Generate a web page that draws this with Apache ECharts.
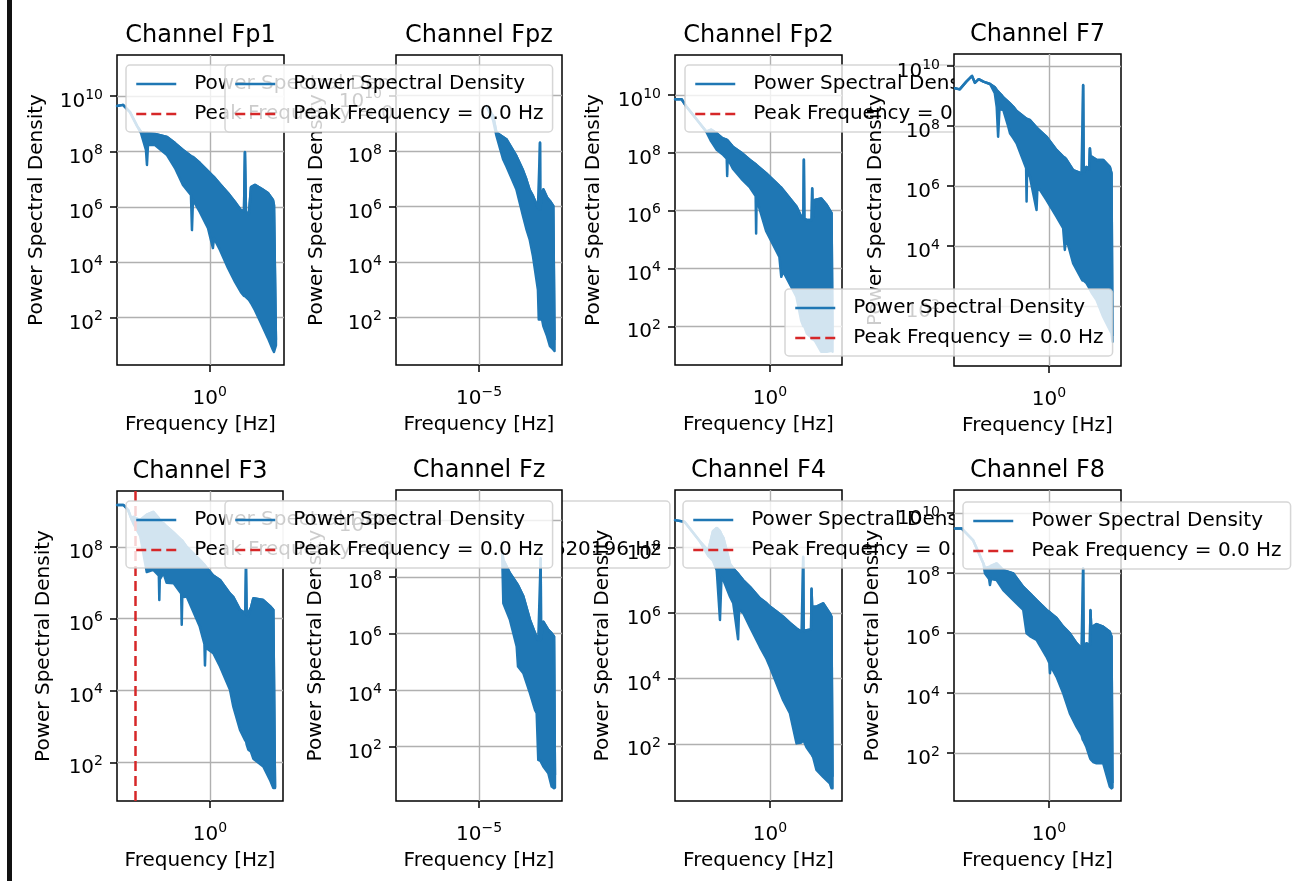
<!DOCTYPE html>
<html>
<head>
<meta charset="utf-8">
<script src="https://cdn.jsdelivr.net/npm/echarts@6/dist/echarts.min.js"></script>
<style>
html,body{margin:0;padding:0;background:#ffffff;}
#chart{width:1294px;height:881px;}
</style>
</head>
<body>
<div id="chart"></div>
<script>
// ---------------- DATA (log10 of frequency in Hz, log10 of PSD upper / lower envelope) ----------------
const channels = ['Fp1', 'Fpz', 'Fp2', 'F7', 'F3', 'Fz', 'F4', 'F8'];
const peakFreqHz = [0, 0, 0, 0, 0.156862745098620196, 0, 0, 0];
const peakFreqText = ['0.0', '0.0', '0.0', '0.0', '0.156862745098620196', '0.0', '0.0', '0.0'];

const fp1LogF = [-1.0,-0.935,-0.86,-0.784,-0.741,-0.688,-0.677,-0.666,-0.591,-0.461,-0.375,-0.289,-0.203,-0.192,-0.181,-0.106,-0.019,0.034,0.045,0.11,0.196,0.272,0.336,0.369,0.379,0.39,0.422,0.444,0.487,0.563,0.627,0.681,0.692,0.713];
const fp1Hi = [9.64,9.68,9.42,8.92,8.70,8.66,8.66,8.66,8.63,8.52,8.30,8.05,7.83,7.80,7.80,7.58,7.29,7.11,7.08,6.82,6.50,6.17,5.88,5.85,7.98,5.81,5.74,6.71,6.79,6.64,6.50,6.25,6.06,1.20];
const fp1Lo = [9.64,9.68,9.42,8.92,8.66,8.05,7.51,8.23,8.23,7.87,7.40,6.79,6.43,5.16,6.25,5.81,5.23,4.51,4.87,4.44,3.79,3.29,2.92,2.78,2.78,2.74,2.64,2.53,2.27,1.73,1.26,0.83,0.76,1.00];

const fpzLogF = [-4.91,-4.83,-4.79,-4.71,-4.67,-4.55,-4.47,-4.43,-4.39,-4.35,-4.29,-4.28,-4.268,-4.265,-4.262,-4.24,-4.225,-4.18,-4.145,-4.105,-4.09];
const fpzHi = [9.62,9.26,8.66,8.50,8.42,7.82,7.30,6.98,6.60,6.38,5.96,5.90,5.90,8.30,5.90,6.50,6.62,6.32,6.20,6.02,1.20];
const fpzLo = [9.62,9.10,8.55,7.70,7.45,6.62,5.66,5.20,4.82,4.22,3.00,1.94,1.94,1.94,1.94,1.94,1.70,1.34,0.98,0.86,0.80];

const fp2LogF = [-1.0,-0.93,-0.88,-0.74,-0.67,-0.62,-0.56,-0.5,-0.455,-0.45,-0.445,-0.39,-0.3,-0.21,-0.15,-0.145,-0.14,-0.04,0.1,0.12,0.14,0.28,0.33,0.353,0.358,0.363,0.39,0.44,0.446,0.452,0.474,0.54,0.6,0.65,0.66];
const fp2Hi = [9.85,9.85,9.60,9.02,8.73,8.80,8.67,8.50,8.45,8.44,8.43,8.21,8.00,7.75,7.60,7.58,7.56,7.29,6.85,6.80,6.71,6.14,5.79,5.75,7.77,5.72,5.67,5.67,6.77,5.75,6.37,6.42,6.19,5.91,1.50];
const fp2Lo = [9.85,9.85,9.60,9.02,8.73,8.40,8.10,7.95,7.80,7.20,7.80,7.45,7.10,6.80,6.50,5.21,6.40,5.30,4.40,3.71,3.90,3.02,2.20,2.00,2.00,2.00,1.75,1.60,1.55,1.55,1.50,1.12,1.12,1.15,1.12];

const f7LogF = [-0.99,-0.94,-0.87,-0.81,-0.78,-0.74,-0.69,-0.62,-0.57,-0.55,-0.535,-0.52,-0.5,-0.48,-0.43,-0.41,-0.375,-0.34,-0.24,-0.235,-0.23,-0.2,-0.13,-0.12,-0.025,0.08,0.15,0.168,0.18,0.256,0.344,0.355,0.361,0.367,0.396,0.425,0.432,0.44,0.449,0.502,0.572,0.642,0.66,0.67];
const f7Hi = [9.26,9.22,9.48,9.67,9.44,9.56,9.48,9.40,9.29,9.20,9.15,9.10,9.03,8.95,8.81,8.75,8.64,8.50,8.25,8.22,8.20,8.20,7.95,7.90,7.64,7.20,6.98,6.95,6.90,6.53,6.42,6.45,9.37,6.45,6.64,6.55,7.26,6.90,6.98,6.87,6.87,6.64,6.42,1.00];
const f7Lo = [9.26,9.22,9.48,9.67,9.44,9.56,9.48,9.40,9.09,8.64,7.64,8.60,8.55,8.53,8.00,7.76,7.60,7.42,6.60,5.48,6.50,6.30,5.20,6.00,5.53,4.98,4.60,3.87,4.30,3.42,2.90,2.85,2.85,2.85,2.76,2.60,2.55,2.50,2.45,2.20,1.64,1.20,1.09,0.81];

const f3LogF = [-1.0,-0.93,-0.88,-0.84,-0.825,-0.75,-0.68,-0.61,-0.55,-0.545,-0.54,-0.5,-0.466,-0.39,-0.31,-0.304,-0.298,-0.25,-0.11,-0.06,-0.054,-0.048,0.036,0.108,0.215,0.251,0.323,0.38,0.387,0.394,0.412,0.44,0.466,0.573,0.645,0.681,0.699];
const f3Hi = [9.17,9.17,9.03,8.75,8.84,8.75,8.90,8.98,8.80,8.75,8.70,8.66,8.57,8.40,8.20,8.19,8.18,8.00,7.64,7.50,7.48,7.45,7.20,7.08,6.70,6.60,6.25,6.15,7.41,6.10,6.06,6.30,6.57,6.52,6.35,6.25,1.30];
const f3Lo = [9.17,9.17,9.03,8.75,8.66,8.30,7.30,7.36,7.20,6.52,7.10,7.27,7.00,6.99,6.70,5.83,6.60,6.62,5.78,5.30,4.70,5.20,5.04,4.67,4.02,3.55,2.90,2.60,2.60,2.50,2.35,2.30,2.10,1.88,1.51,1.28,1.28];

const fzLogF = [-4.72,-4.707,-4.627,-4.546,-4.53,-4.466,-4.386,-4.325,-4.305,-4.286,-4.262,-4.257,-4.252,-4.225,-4.165,-4.124,-4.096,-4.085];
const fzHi = [8.90,8.60,8.13,7.78,7.70,7.31,6.48,6.01,5.85,5.77,5.77,8.66,5.80,6.42,6.13,6.00,5.89,1.00];
const fzLo = [8.70,7.07,6.48,5.54,4.83,4.60,3.89,3.30,3.18,1.53,1.50,1.50,1.45,1.30,1.06,0.59,0.53,0.55];

const f4LogF = [-1.0,-0.9,-0.74,-0.65,-0.6,-0.56,-0.526,-0.51,-0.49,-0.42,-0.386,-0.335,-0.325,-0.28,-0.21,-0.105,-0.035,0.0,0.07,0.14,0.211,0.281,0.334,0.346,0.351,0.356,0.386,0.434,0.439,0.445,0.456,0.491,0.561,0.632,0.649,0.66];
const f4Hi = [8.84,8.79,8.20,7.90,8.50,8.60,8.50,8.40,8.30,7.50,7.36,7.20,7.15,7.00,6.80,6.45,6.30,6.20,6.05,5.89,5.70,5.53,5.43,5.43,7.72,5.45,5.48,5.50,6.75,6.20,6.14,6.20,6.30,5.99,5.89,1.00];
const f4Lo = [8.84,8.79,8.20,7.75,7.60,7.31,5.79,7.10,7.01,6.50,6.30,5.20,6.10,6.00,5.58,4.97,4.60,4.36,3.85,3.34,2.94,2.02,2.05,2.10,2.10,2.10,1.90,1.70,1.70,1.65,1.60,1.21,1.00,0.80,0.65,0.65];

const f8LogF = [-0.99,-0.92,-0.8,-0.69,-0.674,-0.63,-0.621,-0.61,-0.551,-0.481,-0.375,-0.27,-0.235,-0.2,-0.13,-0.025,0.005,0.011,0.02,0.081,0.151,0.221,0.291,0.344,0.356,0.361,0.366,0.396,0.432,0.438,0.446,0.466,0.502,0.572,0.642,0.66,0.67];
const f8Hi = [9.49,9.49,9.10,8.32,8.16,8.20,8.20,8.25,8.32,8.10,7.99,7.54,7.43,7.32,7.10,6.77,6.70,6.68,6.65,6.50,6.21,5.99,5.66,5.49,5.49,8.16,5.55,5.66,5.60,6.77,6.20,6.21,6.30,6.21,6.04,5.88,1.00];
const f8Lo = [9.49,9.49,9.10,8.32,7.99,7.80,7.60,7.80,7.77,7.43,7.10,6.77,5.99,5.90,5.77,5.21,5.00,4.66,4.90,4.54,3.99,3.32,2.88,2.60,2.45,2.43,2.40,2.20,1.85,1.80,1.77,1.70,1.66,1.66,0.88,0.82,0.85];

// tick exponents (labels 10^n)
const yTickExps = [2, 4, 6, 8, 10];
const xTickExpHz = [0];
const xTickExpFpz = [-5];

// ---------------- LAYOUT ----------------
const logFreqs = [fp1LogF, fpzLogF, fp2LogF, f7LogF, f3LogF, fzLogF, f4LogF, f8LogF];
const hiPsd = [fp1Hi, fpzHi, fp2Hi, f7Hi, f3Hi, fzHi, f4Hi, f8Hi];
const loPsd = [fp1Lo, fpzLo, fp2Lo, f7Lo, f3Lo, fzLo, f4Lo, f8Lo];

const panels = [
  {left:117, top:55, width:167, height:310, xMin:-1, xMax:0.8,   yMin:0.29, yMax:11.48, yNameGap:70, lgLeft:126, lgTop:65,  xt:xTickExpHz},
  {left:396, top:55, width:166, height:310, xMin:-6, xMax:-4,    yMin:0.30, yMax:11.45, yNameGap:69, lgLeft:225, lgTop:65,  xt:xTickExpFpz},
  {left:675, top:55, width:167, height:310, xMin:-1, xMax:0.76,  yMin:0.66, yMax:11.38, yNameGap:71, lgLeft:685, lgTop:65,  xt:xTickExpHz},
  {left:954, top:54, width:167, height:312, xMin:-1, xMax:0.76,  yMin:0.0,  yMax:10.4,  yNameGap:68, lgLeft:785, lgTop:289, xt:xTickExpHz},
  {left:117, top:491,width:166, height:310, xMin:-1, xMax:0.785, yMin:0.92, yMax:9.56,  yNameGap:63, lgLeft:126, lgTop:501, xt:xTickExpHz},
  {left:396, top:490,width:166, height:311, xMin:-6, xMax:-4,    yMin:0.08, yMax:11.07, yNameGap:70, lgLeft:225, lgTop:501, xt:xTickExpFpz},
  {left:675, top:490,width:167, height:311, xMin:-1, xMax:0.76,  yMin:0.26, yMax:9.76,  yNameGap:62, lgLeft:683, lgTop:501, xt:xTickExpHz},
  {left:954, top:490,width:167, height:311, xMin:-1, xMax:0.76,  yMin:0.40, yMax:10.77, yNameGap:71, lgLeft:963, lgTop:502, xt:xTickExpHz}
];

const FONT = 'DejaVu Sans';
const BLUE = '#1f77b4';
const RED = '#d62728';

function expLabel(v) {
  const e = Math.round(v);
  const s = e < 0 ? '\u2212' + Math.abs(e) : String(e);
  return '{b|10}{s|' + s + '}';
}
const rich = {
  b: {fontSize: 20, lineHeight: 24, verticalAlign: 'bottom', fontFamily: FONT, color: '#000'},
  s: {fontSize: 14, lineHeight: 10, verticalAlign: 'top', fontFamily: FONT, color: '#000'}
};

// band polygon between upper and lower envelope, positioned through the axes (api.coord)
function bandRenderer(xs, hi, lo) {
  return function (params, api) {
    if (params.dataIndex !== 0) return null;
    const pts = [];
    for (let k = 0; k < xs.length; k++) pts.push(api.coord([xs[k], hi[k]]));
    for (let k = xs.length - 1; k >= 0; k--) pts.push(api.coord([xs[k], lo[k]]));
    return {
      type: 'polygon', shape: {points: pts},
      style: {fill: BLUE, stroke: BLUE, lineWidth: 2.5, lineJoin: 'round'}
    };
  };
}

const grids = [], xAxes = [], yAxes = [], series = [], legends = [], titles = [];

channels.forEach(function (ch, i) {
  const P = panels[i];
  const zb = i * 10;
  const peakName = 'Peak Frequency = ' + peakFreqText[i] + ' Hz';
  const yTicks = yTickExps.filter(function (e) { return e >= P.yMin && e <= P.yMax; });

  grids.push({
    left: P.left, top: P.top, width: P.width, height: P.height,
    show: true, backgroundColor: '#ffffff', borderColor: '#000000', borderWidth: 1.5,
    containLabel: false, outerBoundsMode: 'none', z: zb
  });

  xAxes.push({
    type: 'value', gridIndex: i, min: P.xMin, max: P.xMax, z: zb + 1,
    axisLine: {show: false, onZero: false},
    axisTick: {show: true, length: 7, inside: false, customValues: P.xt, lineStyle: {color: '#000', width: 1.5}},
    axisLabel: {customValues: P.xt, formatter: expLabel, rich: rich, margin: 20},
    splitLine: {show: true, lineStyle: {color: '#b0b0b0', width: 1.4}},
    name: 'Frequency [Hz]', nameLocation: 'middle', nameGap: 50, nameMoveOverlap: false,
    nameTextStyle: {fontSize: 20, fontFamily: FONT, color: '#000'}
  });

  yAxes.push({
    type: 'value', gridIndex: i, min: P.yMin, max: P.yMax, z: zb + 1,
    axisLine: {show: false, onZero: false},
    axisTick: {show: true, length: 7, inside: false, customValues: yTicks, lineStyle: {color: '#000', width: 1.5}},
    axisLabel: {customValues: yTicks, formatter: expLabel, rich: rich, margin: 14, padding: [8, 0, 0, 0]},
    splitLine: {show: true, lineStyle: {color: '#b0b0b0', width: 1.4}},
    name: 'Power Spectral Density', nameLocation: 'middle', nameRotate: 90, nameGap: P.yNameGap, nameMoveOverlap: false,
    nameTextStyle: {fontSize: 20, fontFamily: FONT, color: '#000'}
  });

  const xs = logFreqs[i], hi = hiPsd[i], lo = loPsd[i];

  // upper envelope line (also the legend entry)
  series.push({
    name: 'Power Spectral Density', type: 'line', xAxisIndex: i, yAxisIndex: i,
    data: xs.map(function (x, k) { return [x, hi[k]]; }),
    symbol: 'none', showSymbol: false, silent: true, animation: false,
    lineStyle: {color: BLUE, width: 2.5}, itemStyle: {color: BLUE}, z: zb + 2
  });
  // filled band between the envelopes
  series.push({
    name: 'Power Spectral Density', type: 'custom', xAxisIndex: i, yAxisIndex: i,
    data: xs.map(function (x, k) { return [x, hi[k], lo[k]]; }),
    encode: {x: 0, y: [1, 2]},
    renderItem: bandRenderer(xs, hi, lo),
    silent: true, animation: false, z: zb + 2
  });
  const peakSeries = {
    name: peakName, type: 'line', xAxisIndex: i, yAxisIndex: i, data: [],
    symbol: 'none', showSymbol: false, silent: true, animation: false,
    lineStyle: {color: RED, width: 2.5, type: [10, 5]}, itemStyle: {color: RED}, z: zb + 3
  };
  if (peakFreqHz[i] > 0) {
    peakSeries.markLine = {
      silent: true, symbol: 'none', animation: false, z: zb + 3,
      label: {show: false},
      lineStyle: {color: RED, width: 2.5, type: [10, 5]},
      data: [{xAxis: Math.log10(peakFreqHz[i])}]
    };
  }
  series.push(peakSeries);

  legends.push({
    left: P.lgLeft, top: P.lgTop, orient: 'vertical', z: zb + 5,
    data: ['Power Spectral Density', peakName], selectedMode: false,
    backgroundColor: 'rgba(255,255,255,0.8)', borderColor: 'rgba(204,204,204,0.8)',
    borderWidth: 1.5, borderRadius: 4, padding: [8, 9, 7, 9], itemGap: 8,
    itemWidth: 40, itemHeight: 14, itemStyle: {opacity: 0},
    lineStyle: {width: 2.5},
    textStyle: {fontSize: 20, lineHeight: 22, fontFamily: FONT, color: '#000', padding: [0, 0, 0, 13]}
  });

  titles.push({
    text: 'Channel ' + ch, left: P.left + P.width / 2, top: P.top - 32, textAlign: 'center',
    padding: 0, z: zb + 5,
    textStyle: {fontSize: 24, fontWeight: 'normal', fontFamily: FONT, color: '#000', lineHeight: 26}
  });
});

const chart = echarts.init(document.getElementById('chart'), null, {renderer: 'canvas'});
chart.setOption({
  animation: false,
  backgroundColor: '#ffffff',
  title: titles,
  legend: legends,
  grid: grids,
  xAxis: xAxes,
  yAxis: yAxes,
  series: series,
  graphic: [{type: 'rect', left: 7, top: 0, z: 100, shape: {width: 5, height: 881}, style: {fill: '#111111'}}]
});
</script>
</body>
</html>
